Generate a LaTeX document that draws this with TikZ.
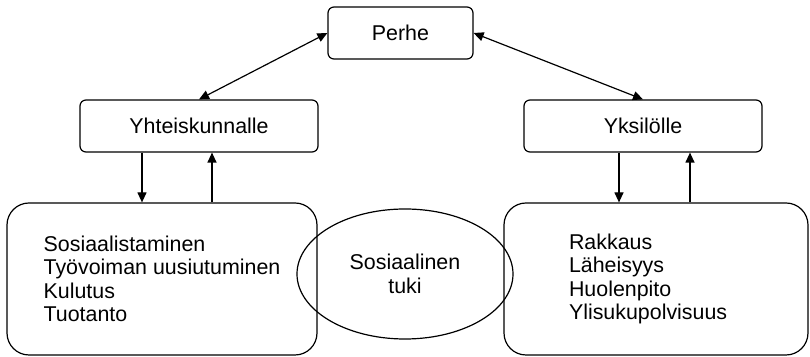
\documentclass[tikz,border=0pt]{standalone}
\usepackage{fontspec}
\setmainfont{Liberation Sans}
\usetikzlibrary{shapes,arrows.meta,positioning,calc}

\begin{document}
\begin{tikzpicture}[x=0.5pt,y=-0.5pt,line width=0.6pt,
        >={Triangle[length=5pt,width=4.5pt]},
        every node/.style={font=\fontsize{10.7}{11.7}\selectfont},
        pieni/.style={draw,rounded corners=3pt,minimum height=26pt,inner sep=0pt},
        iso/.style={draw,rounded corners=11pt,minimum height=76pt,align=left,inner sep=0pt},
        tuki/.style={draw,ellipse,minimum width=108pt,minimum height=65pt,inner sep=0pt,align=center}]
        \useasboundingbox (0,0) rectangle (810,357);
        % ylarivi
        \node [pieni,minimum width=72.5pt] (perhe) at (400.5,33) {Perhe};
        \node [pieni,minimum width=119pt] (yht) at (199,126) {Yhteiskunnalle};
        \node [pieni,minimum width=119pt] (yks) at (643,126) {Yksilölle};
        % alarivi
        \node [iso,minimum width=155pt] (vasen) at (162,279)
            {Sosiaalistaminen\\Työvoiman uusiutuminen\\Kulutus\\Tuotanto};
        \node [iso,minimum width=152pt,text width=87pt] (oikea) at (656,279)
            {Rakkaus\\Läheisyys\\Huolenpito\\Ylisukupolvisuus};
        \node [tuki] (sos) at (405,274) {Sosiaalinen\\tuki};
        % nuolet
        \draw [<->] (yht.north) -- (perhe.west);
        \draw [<->] (perhe.east) -- (yks.north);
        \coordinate (va) at ([xshift=-28.5pt]yht.south);
        \coordinate (vy) at ([xshift=6.5pt]yht.south);
        \coordinate (oa) at ([xshift=-12pt]yks.south);
        \coordinate (oy) at ([xshift=23.5pt]yks.south);
        \draw [->] (va) -- (va |- vasen.north);
        \draw [->] (vy |- vasen.north) -- (vy);
        \draw [->] (oa) -- (oa |- oikea.north);
        \draw [->] (oy |- oikea.north) -- (oy);
\end{tikzpicture}
\end{document}
